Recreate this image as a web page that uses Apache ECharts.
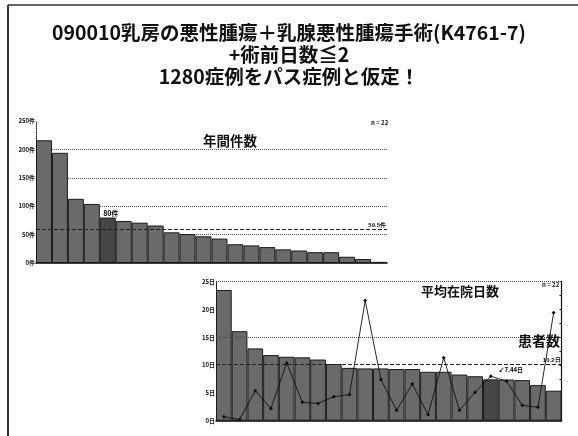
<!DOCTYPE html>
<html>
<head>
<meta charset="utf-8">
<script src="https://cdn.jsdelivr.net/npm/echarts@6/dist/echarts.min.js"></script>
<style>
  html, body { margin: 0; padding: 0; background: #fff; }
  #chart { width: 578px; height: 436px; }
</style>
</head>
<body>
<div id="chart"></div>
<script>
// Annual case counts per hospital, sorted by volume
const hospitalsByCount = ['H01','H02','H03','H04','H05','H06','H07','H08','H09','H10','H11',
                          'H12','H13','H14','H15','H16','H17','H18','H19','H20','H21','H22'];
const annualCases = [216,194,113,104,80,74,71,66,54,51,47,43,33,31,28,24,22,19,19,11,7,2];
const countTicks = [0, 50, 100, 150, 200, 250];
const meanCases = 59.5;
const focusHospital = 'H05';

// Mean length of stay per hospital, sorted by stay length, with patient counts
const hospitalsByStay = ['H21','H22','H09','H17','H04','H13','H14','H12','H11','H01','H06',
                         'H18','H08','H20','H03','H19','H10','H05','H07','H15','H16','H02'];
const meanStayDays = [23.5,16.1,13.0,11.8,11.5,11.4,11.0,10.2,9.5,9.4,9.4,
                      9.3,9.3,8.8,8.8,8.3,8.0,7.44,7.4,7.3,6.4,5.4];
const patientCounts = [7,2,54,22,104,33,31,43,47,216,74,19,66,11,113,19,51,80,71,28,24,194];
const stayTicks = [0, 5, 10, 15, 20, 25];
const meanStay = 10.2;

const titleLines = [
  '090010乳房の悪性腫瘍＋乳腺悪性腫瘍手術(K4761-7)',
  '+術前日数≦2',
  '1280症例をパス症例と仮定！'
];

const JP = '"Noto Sans CJK JP", "Noto Sans", sans-serif';
const barGray = '#6a6a6a';
const barDark = '#464646';

const chart = echarts.init(document.getElementById('chart'), null, { renderer: 'canvas' });

const countBars = annualCases.map((v, i) => {
  const item = { value: v };
  if (hospitalsByCount[i] === focusHospital) {
    item.itemStyle = { color: barDark };
    item.label = { show: true, position: 'top', formatter: v + '件', fontSize: 7,
                   fontWeight: 'bold', color: '#000', fontFamily: JP, distance: 1, offset: [3, 0] };
  }
  return item;
});

const stayBars = meanStayDays.map((v, i) => {
  const item = { value: v };
  if (hospitalsByStay[i] === focusHospital) {
    item.itemStyle = { color: barDark };
    item.label = { show: true, position: 'top', formatter: '↙' + v + '日', fontSize: 6,
                   fontWeight: 'bold', color: '#000', fontFamily: JP, offset: [20, -2] };
  }
  return item;
});

const titleStyle = { fontFamily: JP, fontSize: 19.5, fontWeight: 'bold', color: '#111' };
const panelTitle = (size) => ({ fontFamily: JP, fontSize: size, fontWeight: 'bold', color: '#111' });

const option = {
  backgroundColor: '#fff',
  animation: false,
  title: [
    { text: titleLines[0], left: 'center', top: 18, textStyle: titleStyle },
    { text: titleLines[1], left: 'center', top: 40, textStyle: titleStyle },
    { text: titleLines[2], left: 'center', top: 62, textStyle: titleStyle },
    { text: '年間件数', left: 203, top: 134, padding: 0, textStyle: panelTitle(13.5) },
    { text: 'n = 22', left: 371, top: 120, padding: 0, textStyle: panelTitle(6) },
    { text: '平均在院日数', left: 421, top: 284.5, padding: 0, textStyle: panelTitle(13) },
    { text: 'n = 22', left: 542, top: 282, padding: 0, textStyle: panelTitle(6) },
    { text: '患者数', left: 518, top: 334, padding: 0, textStyle: panelTitle(14) }
  ],
  graphic: [
    { type: 'line', shape: { x1: 8, y1: 5, x2: 578, y2: 5 }, style: { stroke: '#333', lineWidth: 1.5 } },
    { type: 'line', shape: { x1: 8, y1: 5, x2: 8, y2: 436 }, style: { stroke: '#333', lineWidth: 2 } }
  ],
  grid: [
    { left: 36, top: 121, width: 351, height: 142 },
    { left: 216, top: 281.7, width: 345.5, height: 139 }
  ],
  xAxis: [
    { type: 'category', gridIndex: 0, data: hospitalsByCount,
      axisLine: { lineStyle: { color: '#000', width: 1.5 } },
      axisTick: { show: false }, axisLabel: { show: false } },
    { type: 'category', gridIndex: 1, data: hospitalsByStay,
      axisLine: { lineStyle: { color: '#000', width: 1.5 } },
      axisTick: { show: false }, axisLabel: { show: false } }
  ],
  yAxis: [
    { type: 'value', gridIndex: 0, min: countTicks[0], max: countTicks[countTicks.length - 1],
      interval: countTicks[1] - countTicks[0],
      axisLine: { show: true, lineStyle: { color: '#222', type: 'dotted', width: 1 } },
      axisTick: { show: false },
      axisLabel: { formatter: '{value}件', fontSize: 6, fontWeight: 'bold', color: '#111', margin: 1, fontFamily: JP },
      splitLine: { show: true, showMinLine: false, showMaxLine: false,
                   lineStyle: { color: '#555', type: 'dotted', width: 1 } } },
    { type: 'value', gridIndex: 1, min: stayTicks[0], max: stayTicks[stayTicks.length - 1],
      interval: stayTicks[1] - stayTicks[0],
      axisLine: { show: true, lineStyle: { color: '#222', width: 1 } },
      axisTick: { show: false },
      axisLabel: { formatter: '{value}日', fontSize: 6, fontWeight: 'bold', color: '#111', margin: 1, fontFamily: JP },
      splitLine: { show: false } },
    { type: 'value', gridIndex: 1, position: 'right', min: 0, max: 250, interval: 25,
      axisLine: { show: true, lineStyle: { color: '#111', width: 1.2 } },
      axisTick: { show: true, inside: true, length: 2, lineStyle: { color: '#111' } },
      axisLabel: { show: false },
      splitLine: { show: false } }
  ],
  series: [
    { type: 'bar', xAxisIndex: 0, yAxisIndex: 0, data: countBars,
      barWidth: '100%', barCategoryGap: '0%',
      itemStyle: { color: barGray, borderColor: '#1a1a1a', borderWidth: 1 },
      markLine: { silent: true, symbol: 'none',
        lineStyle: { color: '#222', type: 'dashed', width: 1 },
        label: { position: 'insideEndTop', formatter: '{c}件', fontSize: 6, fontWeight: 'bold', color: '#111', distance: 1 },
        data: [{ yAxis: meanCases }] } },
    { type: 'bar', xAxisIndex: 1, yAxisIndex: 1, data: stayBars,
      barWidth: '100%', barCategoryGap: '0%',
      itemStyle: { color: barGray, borderColor: '#1a1a1a', borderWidth: 1 },
      markLine: { silent: true, symbol: 'none',
        lineStyle: { color: '#444', type: 'dotted', width: 1 },
        label: { show: false },
        data: [
          { yAxis: stayTicks[5] },
          { yAxis: stayTicks[3] },
          { yAxis: meanStay, lineStyle: { color: '#222', type: 'dashed' },
            label: { show: true, position: 'insideEndTop', formatter: '{c}日', fontSize: 6,
                     fontWeight: 'bold', color: '#111', distance: 1 } }
        ] } },
    { type: 'line', xAxisIndex: 1, yAxisIndex: 2, data: patientCounts,
      symbol: 'diamond', symbolSize: 4,
      lineStyle: { color: '#111', width: 0.9 },
      itemStyle: { color: '#111' }, z: 5 }
  ]
};

chart.setOption(option);
</script>
</body>
</html>
